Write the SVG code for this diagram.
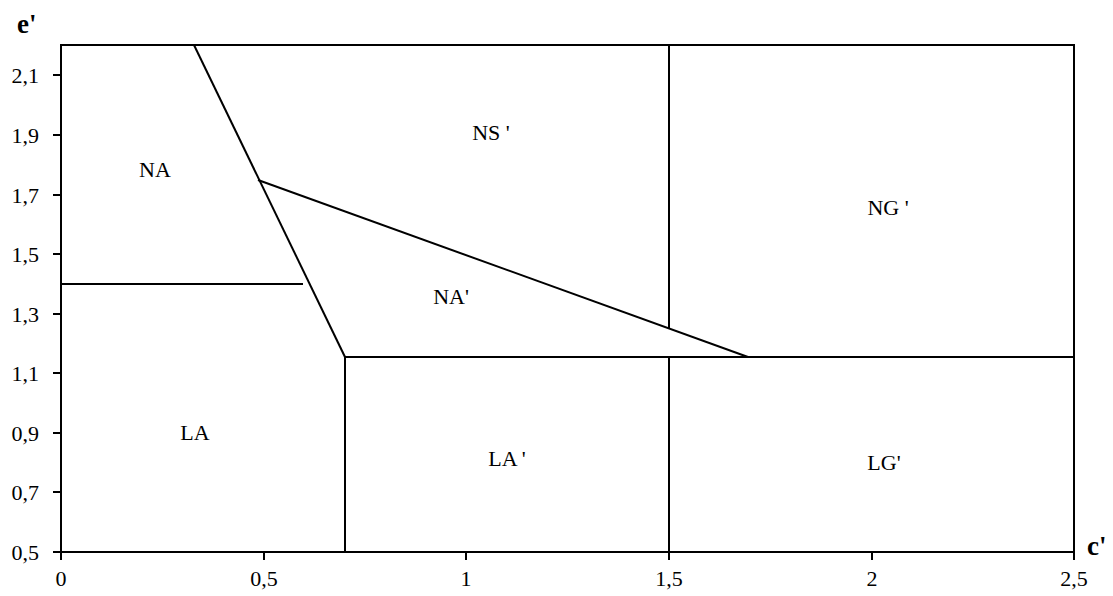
<svg xmlns="http://www.w3.org/2000/svg" width="1113" height="596" viewBox="0 0 1113 596">
<style>
.ln{stroke:#000;stroke-width:2;fill:none}
.tk{stroke:#000;stroke-width:2}
.t{font-family:"Liberation Serif",serif;font-size:22px;fill:#000}
.lb{font-family:"Liberation Serif",serif;font-size:22px;fill:#000;text-anchor:middle}
.ax{font-family:"Liberation Serif",serif;font-size:27px;font-weight:bold;fill:#000}
</style>
<rect width="1113" height="596" fill="#fff"/>
<g id="axes">
<rect x="61" y="45" width="1013" height="507" class="ln"/>
<g class="tk">
<line x1="53" y1="75" x2="61" y2="75"/>
<line x1="53" y1="135" x2="61" y2="135"/>
<line x1="53" y1="195" x2="61" y2="195"/>
<line x1="53" y1="254" x2="61" y2="254"/>
<line x1="53" y1="314" x2="61" y2="314"/>
<line x1="53" y1="373" x2="61" y2="373"/>
<line x1="53" y1="433" x2="61" y2="433"/>
<line x1="53" y1="492" x2="61" y2="492"/>
<line x1="53" y1="552" x2="61" y2="552"/>
<line x1="61" y1="552" x2="61" y2="560"/>
<line x1="264" y1="552" x2="264" y2="560"/>
<line x1="466" y1="552" x2="466" y2="560"/>
<line x1="669" y1="552" x2="669" y2="560"/>
<line x1="872" y1="552" x2="872" y2="560"/>
<line x1="1074" y1="552" x2="1074" y2="560"/>
</g>
<g class="t" text-anchor="end">
<text x="39" y="83">2,1</text>
<text x="39" y="143">1,9</text>
<text x="39" y="203">1,7</text>
<text x="39" y="262">1,5</text>
<text x="39" y="322">1,3</text>
<text x="39" y="381">1,1</text>
<text x="39" y="441">0,9</text>
<text x="39" y="500">0,7</text>
<text x="39" y="560">0,5</text>
</g>
<g class="t" text-anchor="middle">
<text x="61" y="586">0</text>
<text x="264" y="586">0,5</text>
<text x="466" y="586">1</text>
<text x="669" y="586">1,5</text>
<text x="872" y="586">2</text>
<text x="1074" y="586">2,5</text>
</g>
<text class="ax" x="17" y="33">e'</text>
<text class="ax" x="1087" y="555">c'</text>
</g>
<g id="connectors" class="ln">
<polyline points="194,45 345,357"/>
<line x1="258" y1="180" x2="748" y2="357"/>
<line x1="61" y1="284" x2="303" y2="284"/>
<line x1="345" y1="357" x2="1074" y2="357"/>
<line x1="345" y1="357" x2="345" y2="552"/>
<line x1="669" y1="45" x2="669" y2="328"/>
<line x1="669" y1="357" x2="669" y2="552"/>
</g>
<g id="NA"><text class="lb" x="155" y="177">NA</text></g>
<g id="NSp"><text class="lb" x="491" y="140">NS '</text></g>
<g id="NGp"><text class="lb" x="888" y="215">NG '</text></g>
<g id="NAp"><text class="lb" x="451" y="304">NA'</text></g>
<g id="LA"><text class="lb" x="195" y="440">LA</text></g>
<g id="LAp"><text class="lb" x="507" y="466">LA '</text></g>
<g id="LGp"><text class="lb" x="884" y="470">LG'</text></g>
</svg>
